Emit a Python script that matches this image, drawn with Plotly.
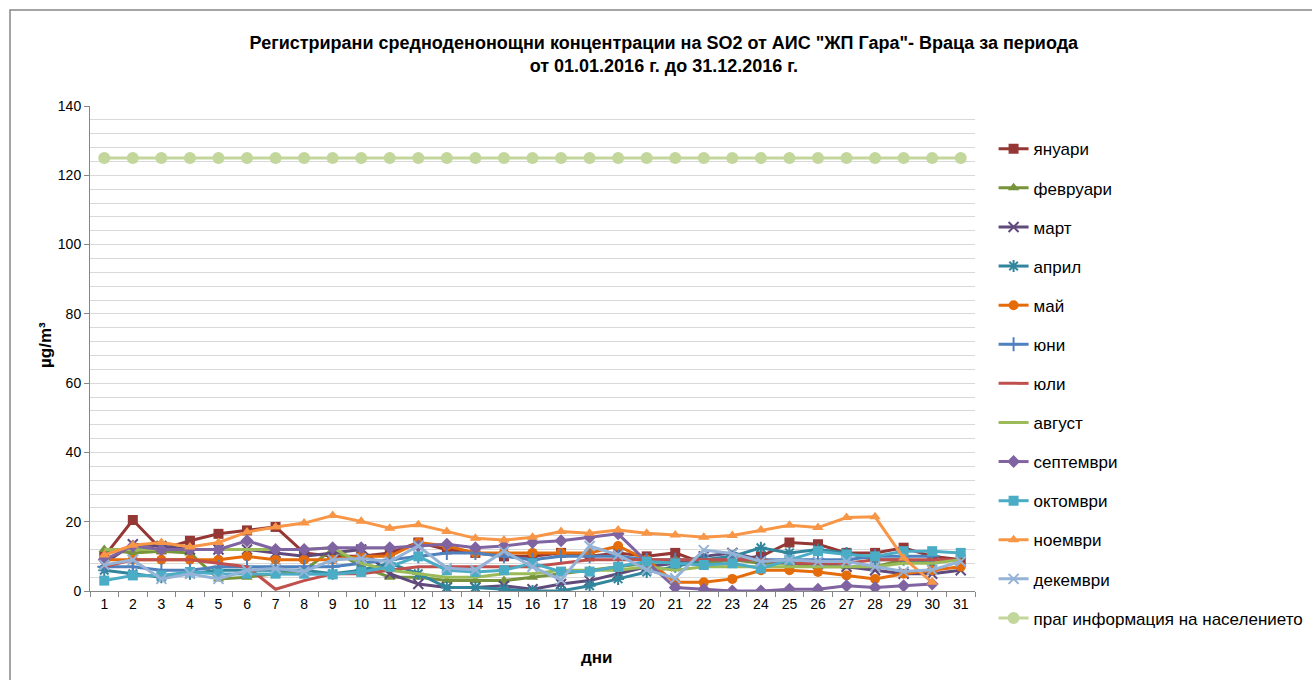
import plotly.graph_objects as go

days = [str(d) for d in range(1, 32)]
N = None

jan = [10, 20.5, 12, 14.5, 16.5, 17.5, 18.5, 11, 10, 10, 11, 14, 12, 11, 10, 10, 11, 10, 11, 10, 11, 8, 9, 10, 14, 13.5, 11, 11, 12.5, 10, 9]
feb = [12, 11, 11.5, 11, 3.5, 4, 5, 6, 12, 7, 4, 4, 3, 3, 3, 4, 5, 6, 7, 8, 9, 8, 9, 8, 8, 7, 7, 7, 9, N, N]
mar = [8, 13.5, 13, 12, 12, 12, 11, 10, 11, 12, 5, 2, 1, 1, 1.5, 0.5, 2, 3, 5, 7, 8, 10, 11, 9, 8, 8, 7, 6, 5, 5, 6]
apr = [6, 5, 4, 5, 6, 6, 6, 6, 5, 6, 8, 5, 1, 1, 0.5, 0, 0, 1.5, 3.5, 5.5, 7, 9, 10, 12.5, 11, 12, 11, 9, 9, 8, N]
may = [9, 9, 9, 9, 9, 10, 9, 9, 9, 10, 10, 14, 13, 11, 11, 11, 11, 11, 13, 9, 2.5, 2.5, 3.5, 6, 6, 5.5, 4.5, 3.5, 5, 6, 7]
jun = [7, 7, 6, 6, 7, 7, 7, 7, 7, 8, 9, 10, 11, 11, 10, 9, 10, 10, 10, 9, 9, 9, 9, 9, 9, 9, 9, 10, 10, 10, N]
jul = [7, 9, 9, 9, 8, 7, 0.5, 3, 5, 5, 6, 7, 7, 7, 7, 7, 8, 9, 9, 9, 9, 9, 9, 9, 8, 8, 8, 9, 9, 9, 9]
aug = [12, 12, 12, 12, 12, 12, 12, 12, 12.5, 8, 6, 5, 4, 4, 5, 5, 6, 6, 6, 7, 6, 7, 7, 7, 7, 7, 7, 7, 8, 8, 9]
sep = [9, 13, 12, 12, 12, 14.5, 12, 12, 12.5, 12.5, 12.5, 13, 13.5, 12.5, 13, 14, 14.5, 15.5, 16.5, 8.5, 1, 0.5, 0, 0, 0.5, 0.5, 1.5, 1, 1.5, 2, N]
octo = [3, 4.5, 4.5, 5.5, 5, 5, 5, 5, 4.8, 5.5, 7, 10, 6, 5.5, 6, 8, 5.6, 5.6, 7, 8.5, 8, 7.5, 8, 6.5, 9, 11.5, 10.5, 10, 11.5, 11.5, 11]
nov = [10.4, 13.2, 14, 12.7, 14, 17, 18.5, 19.6, 21.8, 20.1, 18.1, 19.1, 17.2, 15.2, 14.7, 15.5, 17.2, 16.7, 17.6, 16.7, 16.2, 15.5, 16, 17.6, 19, 18.3, 21.2, 21.4, 9.5, 2.5, N]
dec = [7.5, 9, 3.5, 5, 3.5, 6, 6.5, 5.6, 9, 9.4, 8.5, 13, 6.6, 6.1, 11.5, 7, 3.2, 13, 10.4, 6.1, 3.7, 11.8, 10.8, 8.5, 9, 8.5, 8.5, 7, 5.6, 6.1, 8.5]
thr = [125] * 31

names = ["януари", "февруари", "март", "април", "май", "юни", "юли", "август",
         "септември", "октомври", "ноември", "декември", "праг информация на населението"]
series = [jan, feb, mar, apr, may, jun, jul, aug, sep, octo, nov, dec, thr]
colors = ["#953735", "#77933C", "#604A7B", "#31859C", "#E46C0A", "#4F81BD", "#C0504D",
          "#9BBB59", "#8064A2", "#4BACC6", "#F79646", "#95B3D7", "#C3D69B"]
symbols = ["square", "triangle-up", "x-thin-open", "asterisk-open", "circle", "cross-thin-open",
           None, None, "diamond", "square", "triangle-up", "x-thin-open", "circle"]

fig = go.Figure()
for i, (nm, vals, col, sym) in enumerate(zip(names, series, colors, symbols)):
    if sym is None:
        mode = "lines"
        marker = dict()
    else:
        mode = "lines+markers"
        open_sym = sym.endswith("open")
        marker = dict(symbol=sym, size=12 if i == 12 else 10, color=col,
                      line=dict(width=2 if open_sym else 0, color=col))
    fig.add_trace(go.Scatter(x=days, y=vals, name=nm, mode=mode, marker=marker,
                             line=dict(color=col, width=3), legendgroup=str(i),
                             connectgaps=False))

L, R, T, B = 90, 975, 106, 591
W, H = 1312, 680

fig.update_layout(
    width=W, height=H,
    margin=dict(l=L, r=W - R, t=T, b=H - B, autoexpand=False),
    plot_bgcolor="white", paper_bgcolor="white",
    font=dict(family="Liberation Sans", color="#000000"),
    title=dict(text="Регистрирани средноденонощни концентрации на SO2 от АИС \"ЖП Гара\"- Враца за периода<br>от 01.01.2016 г. до 31.12.2016 г.",
               x=0.506, xanchor="center", y=0.928, yanchor="middle",
               font=dict(size=18, family="Liberation Sans", weight="bold")),
    xaxis=dict(type="category", range=[-0.5, 30.5], showgrid=False, showline=True,
               linecolor="#868686", linewidth=1,
               ticks="outside", tickson="boundaries", ticklen=5, tickcolor="#868686",
               tickfont=dict(size=14, family="Liberation Sans", color="#000000")),
    yaxis=dict(range=[0, 140], dtick=20, showgrid=True, gridcolor="#D9D9D9", gridwidth=1,
               showline=True, linecolor="#868686", linewidth=1, ticks="outside", ticklen=5,
               tickcolor="#868686", zeroline=False,
               minor=dict(dtick=4, showgrid=True, gridcolor="#D9D9D9", gridwidth=1),
               tickfont=dict(size=14, family="Liberation Sans", color="#000000")),
    legend=dict(x=1.021, xanchor="left", y=0.948, yanchor="top", tracegroupgap=14,
                font=dict(size=17, family="Liberation Sans"), maxheight=640,
                bgcolor="rgba(0,0,0,0)", itemwidth=30),
    showlegend=True,
)

fig.add_annotation(text="<b>µg/m³</b>", xref="paper", yref="paper", x=(45 - L) / (R - L),
                   y=(B - 345) / (B - T), textangle=-90, showarrow=False,
                   xanchor="center", yanchor="middle",
                   font=dict(size=17, family="Liberation Sans"))
fig.add_annotation(text="<b>дни</b>", xref="paper", yref="paper", x=(597 - L) / (R - L),
                   y=(B - 657) / (B - T), showarrow=False, xanchor="center", yanchor="middle",
                   font=dict(size=17, family="Liberation Sans"))

fig.add_shape(type="rect", xref="paper", yref="paper",
              x0=(10 - L) / (R - L), x1=2.0, y0=-1.0, y1=1 + (T - 10) / (B - T),
              line=dict(color="#868686", width=1.5), fillcolor="rgba(0,0,0,0)", layer="below")

fig.write_html("out.html", config={"displayModeBar": False},
               post_script="document.body.style.margin='0';document.body.style.overflow='hidden';")
